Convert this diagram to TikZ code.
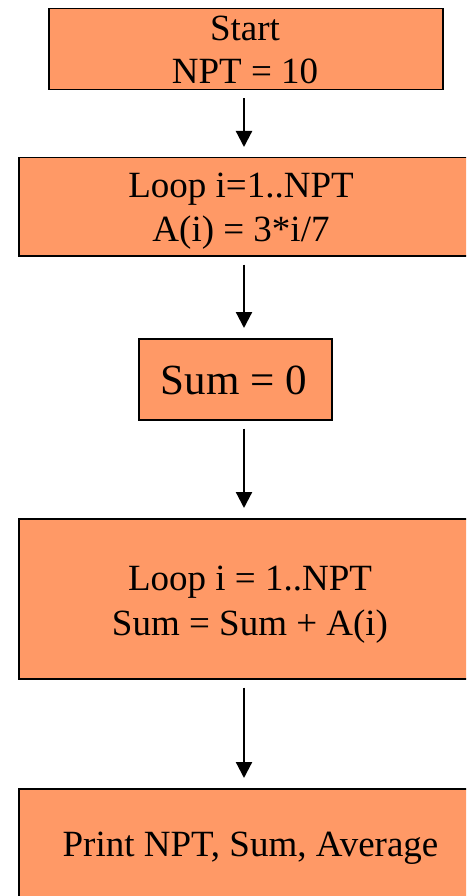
\documentclass[tikz,border=0pt]{standalone}
\usepackage{fontspec}
\setmainfont{Liberation Serif}
\usetikzlibrary{arrows.meta}
\definecolor{boxfill}{HTML}{FF9966}
\begin{document}
\begin{tikzpicture}[x=1pt,y=-1pt,
  box/.style={draw=black, line width=1.5pt, fill=boxfill, inner sep=0pt, anchor=north west},
  txt/.style={anchor=base, inner sep=0pt, font=\fontsize{37}{44}\selectfont},
  bigtxt/.style={anchor=base, inner sep=0pt, font=\fontsize{43}{50}\selectfont},
  arr/.style={-{Triangle[width=16pt,length=16pt]}, line width=2.2pt, shorten <=8pt, shorten >=10pt}]
\useasboundingbox (0,0) rectangle (466,896);
\clip (0,0) rectangle (466,896);
% boxes
\node[box, minimum width=394pt, minimum height=81pt] (b1) at (48,8) {};
\node[box, minimum width=470pt, minimum height=98pt] (b2) at (18,157) {};
\node[box, minimum width=193pt, minimum height=81pt] (b3) at (138,338) {};
\node[box, minimum width=470pt, minimum height=160pt] (b4) at (18,518) {};
\node[box, minimum width=470pt, minimum height=140pt] (b5) at (18,788) {};
% texts
\node[txt] (t1a) at (245,40.7) {Start};
\node[txt] (t1b) at (245,83.3) {NPT = 10};
\node[txt] (t2a) at (241,197.5) {Loop i=1..NPT};
\node[txt] (t2b) at (241,241.5) {A(i) = 3*i/7};
\node[bigtxt] (t3) at (234,394) {Sum = 0};
\node[txt] (t4a) at (250,590) {Loop i = 1..NPT};
\node[txt] (t4b) at (250,635) {Sum = Sum + A(i)};
\node[txt] (t5) at (250.5,856.5) {Print NPT, Sum, Average};
% arrows
\coordinate (ax) at (244,0);
\draw[arr] (ax |- b1.south) -- (ax |- b2.north);
\draw[arr] (ax |- b2.south) -- (ax |- b3.north);
\draw[arr] (ax |- b3.south) -- (ax |- b4.north);
\draw[arr] (ax |- b4.south) -- (ax |- b5.north);
\end{tikzpicture}
\end{document}
